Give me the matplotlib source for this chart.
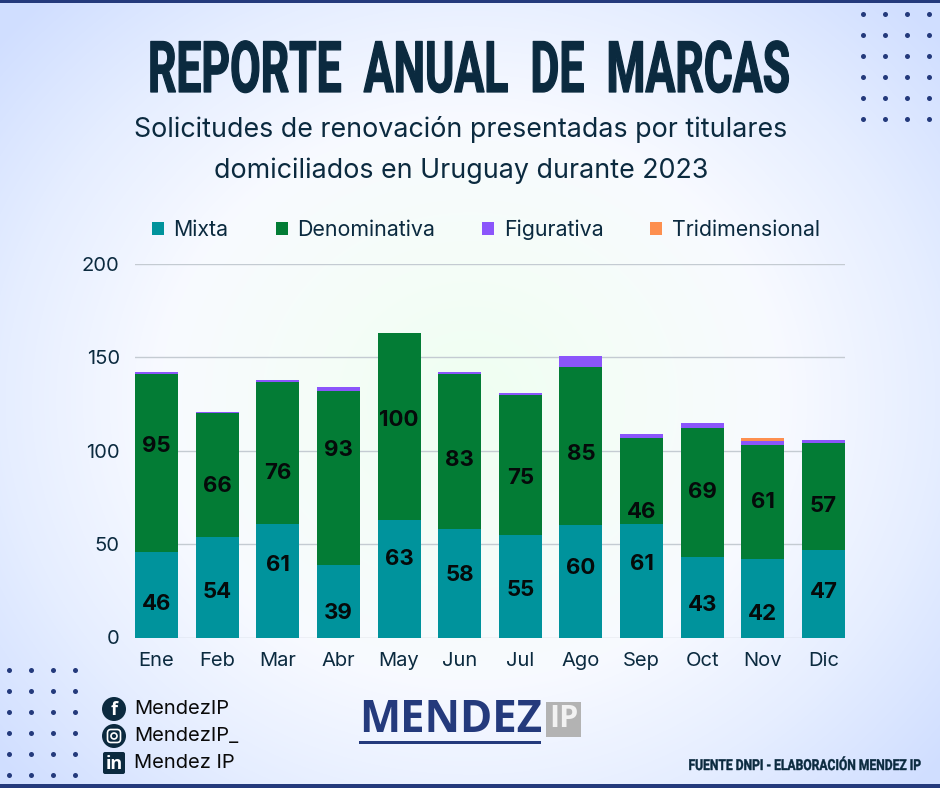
import numpy as np
import matplotlib
matplotlib.use("Agg")
import matplotlib.pyplot as plt
from matplotlib.colors import LinearSegmentedColormap
from matplotlib.patches import Circle, FancyBboxPatch, Rectangle, Patch
from matplotlib.patheffects import AbstractPathEffect
from matplotlib.transforms import Affine2D

months = ["Ene", "Feb", "Mar", "Abr", "May", "Jun", "Jul", "Ago", "Sep", "Oct", "Nov", "Dic"]
mixta = [46, 54, 61, 39, 63, 58, 55, 60, 61, 43, 42, 47]
denominativa = [95, 66, 76, 93, 100, 83, 75, 85, 46, 69, 61, 57]
figurativa = [1, 1, 1, 2, 0, 1, 1, 6, 2, 3, 2, 2]
tridimensional = [0, 0, 0, 0, 0, 0, 0, 0, 0, 0, 2, 0]
# heights at which the reference places its value labels
mixta_label_at = [17.7, 24.2, 38.7, 13.2, 42.2, 33.7, 25.2, 37.2, 39.2, 17.2, 12.7, 24.2]
denominativa_label_at = [102.8, 81.2, 88.2, 100.2, 116.7, 94.8, 85.2, 98.2, 67.2, 77.7, 72.8, 70.2]
series_names = ["Mixta", "Denominativa", "Figurativa", "Tridimensional"]
series_colors = ["#00939c", "#037c35", "#8b55fb", "#fd8f4f"]
y_ticks = [0, 50, 100, 150, 200]

W, H = 940, 788
NAVY = "#0b2a3f"
BLUE = "#243a7c"
BODY = "Inter"
fig = plt.figure(figsize=(W / 100, H / 100), dpi=100)


class StretchY(AbstractPathEffect):
    """Stretch glyphs vertically about a horizontal line, with an optional outline to embolden."""
    def __init__(self, factor, y0, stroke=0.0, color=NAVY):
        super().__init__()
        self.factor, self.y0, self.stroke, self.color = factor, y0, stroke, color

    def draw_path(self, renderer, gc, tpath, affine, rgbFace=None):
        a = affine + Affine2D().translate(0, -self.y0).scale(1, self.factor).translate(0, self.y0)
        gc0 = renderer.new_gc()
        gc0.copy_properties(gc)
        gc0.set_linewidth(self.stroke)
        gc0.set_foreground(self.color)
        renderer.draw_path(gc0, tpath, a, rgbFace)
        gc0.restore()


# page background
bg = fig.add_axes([0, 0, 1, 1], zorder=0)
yy, xx = np.mgrid[0:H, 0:W]
r = np.sqrt(((xx - 470) / 620) ** 2 + ((yy - 400) / 560) ** 2)
cmap = LinearSegmentedColormap.from_list(
    "bg", [(0, "#effff1"), (0.25, "#f5fdf8"), (0.5, "#f8faff"), (0.75, "#e6eeff"), (1, "#d0deff")])
bg.imshow(np.clip(r, 0, 1), cmap=cmap, vmin=0, vmax=1, extent=(0, W, H, 0), aspect="auto")
bg.set_xlim(0, W)
bg.set_ylim(H, 0)
bg.axis("off")
bg.add_patch(Rectangle((0, 0), W, 3, color=BLUE, lw=0))
bg.add_patch(Rectangle((0, 784), W, 4, color=BLUE, lw=0))
for dx, dy in [(np.array([863, 885, 907, 929]), np.array([14, 35, 56, 77, 98, 119])),
               (np.array([9, 31, 53, 75]), np.array([670, 691, 712, 733, 754, 775]))]:
    gx, gy = np.meshgrid(dx, dy)
    bg.scatter(gx.ravel(), gy.ravel(), s=13, color=BLUE, lw=0)

# chart
ax = fig.add_axes([135 / W, 1 - 637.5 / H, 710 / W, 373.5 / H], zorder=1)
ax.patch.set_alpha(0)
x = np.arange(len(months))
width = 0.71
bottom = np.zeros(len(months))
for vals, name, col in zip([mixta, denominativa, figurativa, tridimensional], series_names, series_colors):
    ax.bar(x, vals, width, bottom=bottom, color=col, label=name, zorder=3)
    bottom += np.array(vals)
for vals, at in [(mixta, mixta_label_at), (denominativa, denominativa_label_at)]:
    for xi, v, a in zip(x, vals, at):
        ax.text(xi, a, str(v), ha="center", va="center", fontsize=16, fontweight="bold",
                family=BODY, color="#050a0a", zorder=4)
ax.set_xlim(-width / 2, len(months) - 1 + width / 2)
ax.set_ylim(0, 200)
ax.set_xticks(x, months)
ax.set_yticks(y_ticks)
ax.grid(axis="y", color="#c4cbd2", lw=1, zorder=1)
ax.set_axisbelow(True)
ax.tick_params(length=0, labelsize=14.5, labelcolor=NAVY)
ax.tick_params(axis="x", pad=10.5)
ax.tick_params(axis="y", pad=11)
for lab in ax.get_xticklabels() + ax.get_yticklabels():
    lab.set_family(BODY)
for s in ax.spines.values():
    s.set_visible(False)

handles = [Patch(facecolor=c, label=n) for c, n in zip(series_colors, series_names)]
fig.legend(handles=handles, ncol=4, loc="center", bbox_to_anchor=(486 / W, 1 - 229.5 / H),
           frameon=False, prop={"family": BODY, "size": 15.4}, labelcolor=NAVY,
           handlelength=0.56, handleheight=0.56, handletextpad=0.45, columnspacing=2.2)

# overlay texts
ov = fig.add_axes([0, 0, 1, 1], zorder=2)
ov.set_xlim(0, W)
ov.set_ylim(H, 0)
ov.axis("off")
ov.patch.set_alpha(0)
t = ov.text(470, 92, "REPORTE  ANUAL  DE  MARCAS", ha="center", va="baseline", fontsize=32,
            fontweight="bold", family="Roboto", color=NAVY)
t.set_path_effects([StretchY(1.6, H - 92, stroke=0.9)])
ov.text(461, 129, "Solicitudes de renovación presentadas por titulares", ha="center", va="center",
        fontsize=19.3, family=BODY, color=NAVY)
ov.text(461, 171, "domiciliados en Uruguay durante 2023", ha="center", va="center",
        fontsize=19.3, family=BODY, color=NAVY)

# social handles
ov.add_patch(Circle((114, 709), 12, color=NAVY, lw=0))
ov.text(114, 710, "f", color="white", fontsize=13, fontweight="bold", ha="center", va="center", family="Open Sans")
ov.add_patch(Circle((114, 736), 12, color=NAVY, lw=0))
ov.add_patch(FancyBboxPatch((107.5, 729.5), 13, 13, boxstyle="round,pad=0,rounding_size=3.5", fc="none", ec="white", lw=1.2))
ov.add_patch(Circle((114, 736), 3, fc="none", ec="white", lw=1.2))
ov.add_patch(FancyBboxPatch((103, 752), 22, 22, boxstyle="round,pad=0,rounding_size=2", fc=NAVY, ec="none"))
ov.text(114, 764, "in", color="white", fontsize=13, fontweight="bold", ha="center", va="center", family="Open Sans")
for yy_, s_ in zip([709, 736, 763], ["MendezIP", "MendezIP_", "Mendez IP"]):
    ov.text(134, yy_, s_, fontsize=14.5, family=BODY, color="#0a0a0a", ha="left", va="center")

# logo
ov.text(359, 721, "MENDEZ", fontsize=31.5, fontweight="bold", family="Open Sans", color=BLUE, ha="left", va="center")
ov.add_patch(Rectangle((546, 702), 35, 35, color="#b3b3b3", lw=0))
ov.text(563.5, 719, "IP", fontsize=22, fontweight="bold", family="Open Sans", color="#f2f2f2", ha="center", va="center")
ov.add_patch(Rectangle((359, 741), 182, 3, color=BLUE, lw=0))

f = ov.text(921, 770, "FUENTE DNPI - ELABORACIÓN MENDEZ IP", fontsize=8.7, fontweight="bold",
            family="Roboto", color=NAVY, ha="right", va="baseline")
f.set_path_effects([StretchY(1.25, H - 770, stroke=0.3)])

fig.savefig("out.png", dpi=100)
